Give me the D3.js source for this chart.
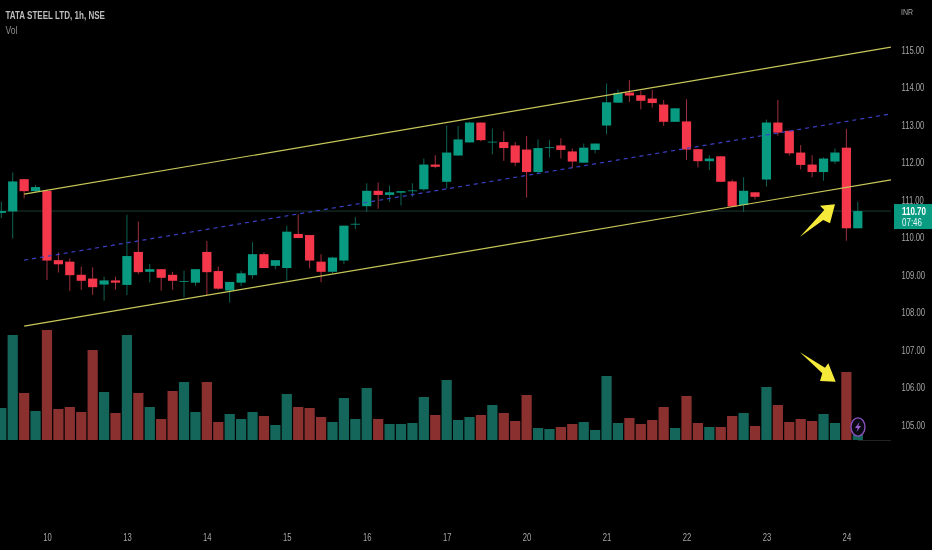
<!DOCTYPE html>
<html><head><meta charset="utf-8">
<script src="https://cdn.jsdelivr.net/npm/d3@7/dist/d3.min.js"></script>
<style>
html,body{margin:0;padding:0;background:#000;overflow:hidden}
svg{display:block;filter:blur(0.35px)}
text{font-family:"Liberation Sans",sans-serif}
</style></head><body><div id="chart"></div>
<script>
const open  = [110.65,110.69,111.55,111.23,111.24,109.39,109.35,109.00,108.90,108.74,108.85,108.73,109.61,109.08,109.15,109.00,108.81,108.79,109.61,109.10,108.58,108.79,108.99,109.55,109.24,109.18,110.09,110.06,109.35,109.08,109.38,110.34,110.83,111.24,111.13,111.19,111.23,111.28,111.94,111.48,112.18,112.53,113.06,112.53,112.54,112.45,112.34,111.74,112.38,112.45,112.29,111.99,112.33,112.98,113.59,113.86,113.79,113.70,113.54,113.08,113.09,112.35,112.03,112.16,111.49,110.86,111.20,111.54,113.06,112.84,112.26,111.94,111.74,112.02,112.39,110.24];
const high  = [110.95,111.73,111.55,111.40,111.27,109.60,109.44,109.22,109.20,108.95,108.95,110.60,110.42,109.29,109.15,109.08,109.11,109.15,109.90,109.22,108.81,109.11,109.87,109.60,109.39,110.31,110.61,110.06,109.55,109.48,110.31,110.54,111.44,111.46,111.38,111.23,111.44,112.10,112.19,112.98,112.97,113.08,113.06,112.90,112.83,112.54,112.70,112.61,112.59,112.64,112.37,112.50,112.50,114.10,113.94,114.19,113.91,113.93,113.66,113.44,113.68,112.35,112.19,112.16,111.54,111.60,111.20,113.14,113.66,112.84,112.46,112.19,112.13,112.37,112.89,110.95];
const low   = [110.51,109.97,111.04,111.20,108.86,109.06,108.57,108.60,108.46,108.31,108.60,108.46,109.02,108.80,108.58,108.60,108.40,108.70,108.44,108.60,108.26,108.70,108.90,109.18,109.15,108.84,109.98,109.17,108.80,109.03,109.29,110.22,110.68,110.76,110.95,110.85,111.08,111.24,111.84,111.30,112.18,112.53,112.56,112.21,112.04,111.90,111.06,111.70,112.13,112.10,111.84,111.99,112.24,112.75,113.59,113.61,113.41,113.46,112.97,113.08,112.06,111.86,111.79,111.48,110.80,110.68,111.01,111.35,112.71,112.18,111.81,111.60,111.51,111.96,109.91,110.24];
const close = [110.70,111.49,111.23,111.34,109.38,109.28,108.99,108.84,108.67,108.85,108.79,109.50,109.07,109.15,108.92,108.84,108.83,109.15,109.07,108.63,108.81,109.04,109.55,109.18,109.39,110.15,109.98,109.38,109.08,109.46,110.31,110.36,111.24,111.13,111.20,111.23,111.25,111.94,111.88,112.26,112.61,113.06,112.59,112.55,112.38,111.99,111.74,112.38,112.40,112.33,112.02,112.39,112.50,113.60,113.85,113.78,113.64,113.58,113.08,113.44,112.34,112.03,112.10,111.48,110.82,111.24,111.08,113.06,112.79,112.24,111.93,111.74,112.10,112.26,110.24,110.70];
const volume= [32,105,47,29,110,31,33,28,90,48,27,105,47,33,21,49,58,28,58,18,26,21,28,24,15,46,33,32,23,18,42,21,52,21,16,16,17,43,25,60,20,23,25,35,27,19,45,12,11,13,16,18,10,64,17,22,16,20,33,12,44,17,13,13,24,27,14,53,35,18,21,19,26,17,68,5];
const priceTicks = [115,114,113,112,111,110,109,108,107,106,105];
const dateLabels = ["10","13","14","15","16","17","20","21","22","23","24"];
const dateLabelIdx = [4,11,18,25,32,39,46,53,60,67,74];
const channelX = [2,77.9];
const channelUpper = [111.15,115.07];
const channelMid = [109.39,113.29];
const channelLower = [107.63,111.53];
const lastPrice = 110.70;
const countdown = "07:46";

const W=932,H=550,plotR=891;
const svg=d3.select("#chart").append("svg").attr("width",W).attr("height",H);
svg.append("rect").attr("width",W).attr("height",H).attr("fill","#000");

const x=d3.scaleLinear().domain([0,75]).range([1.3,857.8]);
const y=d3.scaleLinear().domain([105,115]).range([424.8,49.8]);
const v=d3.scaleLinear().domain([0,110]).range([440,330]);
const UP="#089b82",DN="#f4374b",UPV="#14665b",DNV="#8a302f";
const idx=d3.range(open.length);
const isUp=i=>close[i]>=open[i];

svg.append("line").attr("x1",0).attr("x2",plotR).attr("y1",y(lastPrice)).attr("y2",y(lastPrice)).attr("stroke","#1c3a30").attr("stroke-width",1);
svg.append("line").attr("x1",x(75)).attr("x2",plotR).attr("y1",v(0)+.5).attr("y2",v(0)+.5).attr("stroke","#222").attr("stroke-width",1);

svg.append("g").selectAll("rect").data(idx).join("rect")
  .attr("x",i=>x(i)-5.1).attr("width",10.2)
  .attr("y",i=>v(volume[i])).attr("height",i=>v(0)-v(volume[i]))
  .attr("fill",i=>isUp(i)?UPV:DNV);

svg.append("g").selectAll("line").data(idx).join("line")
  .attr("x1",x).attr("x2",x).attr("y1",i=>y(high[i])).attr("y2",i=>y(low[i]))
  .attr("stroke",i=>isUp(i)?"#0f6355":"#a02f3c").attr("stroke-width",1);
svg.append("g").selectAll("rect").data(idx).join("rect")
  .attr("x",i=>x(i)-4.6).attr("width",9.2)
  .attr("y",i=>y(Math.max(open[i],close[i])))
  .attr("height",i=>Math.max(0.8,Math.abs(y(open[i])-y(close[i]))))
  .attr("fill",i=>isUp(i)?UP:DN);

const line=d3.line().x((d,k)=>x(channelX[k])).y(d=>y(d));
svg.append("path").attr("d",line(channelUpper)).attr("fill","none").attr("stroke","#c8c85a").attr("stroke-width",1.2);
svg.append("path").attr("d",line(channelLower)).attr("fill","none").attr("stroke","#c8c85a").attr("stroke-width",1.2);
svg.append("path").attr("d",line(channelMid)).attr("fill","none").attr("stroke","#3b40c4").attr("stroke-width",1.2).attr("stroke-dasharray","4 4");

const FONT='"Liberation Sans",sans-serif';
const yAxis=d3.axisRight(y).tickValues(priceTicks).tickFormat(d3.format(".2f")).tickSize(0).tickPadding(0);
const gy=svg.append("g").attr("transform","translate(901.5,0)").call(yAxis);
gy.select(".domain").remove();
gy.selectAll("text").attr("fill","#a6a6a6").style("font-size","10.5px").style("font-family",FONT).attr("transform","scale(0.73,1)");

const xAxis=d3.axisBottom(x).tickValues(dateLabelIdx).tickFormat((d,k)=>dateLabels[k]).tickSize(0).tickPadding(0);
const gx=svg.append("g").attr("transform","translate(0,533.5)").call(xAxis);
gx.select(".domain").remove();
gx.selectAll("text").attr("fill","#a6a6a6").style("font-size","10.5px").style("font-family",FONT).attr("transform","scale(0.73,1)");

function label(tx,px,py,width,size,fill,weight){
  const t=svg.append("text").attr("fill",fill).style("font-size",size+"px").style("font-weight",weight||400).text(tx);
  const sx=width/t.node().getComputedTextLength();
  t.attr("transform",`translate(${px},${py}) scale(${sx},1)`);
  return t;
}
label("INR",901,15,12,9.5,"#a6a6a6");
label("TATA STEEL LTD, 1h, NSE",5.5,19,99.5,10.5,"#bdbdbd",700);
label("Vol",5.5,34,12,10.5,"#8f8f8f");

svg.append("rect").attr("x",894).attr("y",y(lastPrice)-7).attr("width",38).attr("height",25).attr("fill",UP);
label(d3.format(".2f")(lastPrice),902,y(lastPrice)+3.8,24,10,"#fff",700);
label(countdown,902,y(lastPrice)+15,20,10,"#e8f5f2");

const arrowA=[[800,236.7],[824.3,210],[820,205.7],[835,204.3],[830,223.3],[823.3,220]];
const arrowB=[[800,352.3],[825,367.7],[828.3,363.3],[835.7,381.7],[820,381],[822.3,373.3]];
[arrowA,arrowB].forEach(p=>svg.append("polygon").attr("points",p.join(" ")).attr("fill","#f5ea3a"));

const badge=svg.append("g").attr("transform","translate(858,427)");
badge.append("ellipse").attr("rx",7).attr("ry",9.2).attr("fill","#0a0a12").attr("stroke","#8e52c4").attr("stroke-width",1.3);
badge.append("polygon").attr("points","1.5,-5 -3,1 -0.3,1 -1.5,5 3,-1 0.3,-1").attr("fill","#9a5fd0");
</script></body></html>
